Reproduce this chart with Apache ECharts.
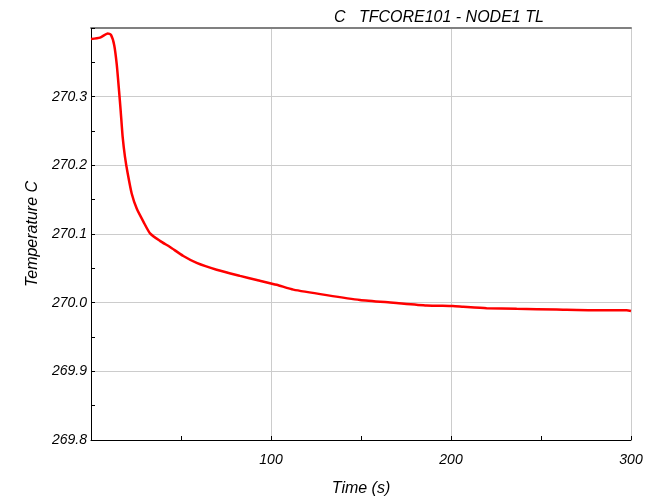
<!DOCTYPE html>
<html>
<head>
<meta charset="utf-8">
<script src="https://cdn.jsdelivr.net/npm/echarts@6/dist/echarts.min.js"></script>
<style>html,body{margin:0;padding:0;background:#fff}#c{width:651px;height:502px}</style>
</head>
<body>
<div id="c"></div>
<script>
const titleText = 'C   TFCORE101 - NODE1 TL';
const xName = 'Time (s)';
const yName = 'Temperature C';
const timeS = [0, 5, 9.3, 11.1, 12.9, 14.3, 15.6, 16.5, 17.6, 18.9, 20.4, 22.6, 25.4, 29.1, 32.8, 38.3, 43.9, 51.3, 58.7, 69.8, 82.8, 92.1, 103.2, 112.4, 130.9, 149.4, 168, 186.5, 201, 206.8, 219.8, 236.5, 258.7, 280, 297.6, 300];
const tempC = [270.384, 270.386, 270.392, 270.390, 270.375, 270.347, 270.308, 270.279, 270.241, 270.212, 270.188, 270.159, 270.137, 270.118, 270.101, 270.090, 270.081, 270.068, 270.058, 270.048, 270.039, 270.033, 270.026, 270.019, 270.011, 270.004, 270.000, 269.996, 269.995, 269.994, 269.992, 269.991, 269.990, 269.989, 269.989, 269.988];
const xTicks = [100, 200, 300];
const yTicks = [269.8, 269.9, 270.0, 270.1, 270.2, 270.3];

const font = 'Liberation Sans, Arial, sans-serif';
const chart = echarts.init(document.getElementById('c'));
chart.setOption({
  animation: false,
  title: {
    text: titleText, left: 329, top: 5,
    textStyle: {fontFamily: font, fontStyle: 'italic', fontWeight: 'normal', fontSize: 16, color: '#000'}
  },
  grid: {left: 91, right: 20, top: 28, bottom: 59},
  xAxis: [{
    type: 'value', min: 0, max: 300, interval: 100,
    name: xName, nameLocation: 'middle', nameGap: 41,
    nameTextStyle: {fontFamily: font, fontStyle: 'italic', fontSize: 16, color: '#000'},
    axisLine: {show: true, lineStyle: {color: '#000', width: 1}},
    axisTick: {show: true, inside: true, length: 4, lineStyle: {color: '#000'}},
    minorTick: {show: true, splitNumber: 2, length: 4, lineStyle: {color: '#000'}},
    axisLabel: {
      fontFamily: font, fontStyle: 'italic', fontSize: 14, color: '#000', margin: 13,
      formatter: v => xTicks.includes(v) ? String(v) : ''
    },
    splitLine: {show: true, lineStyle: {color: '#cccccc', width: 1}}
  }, {
    type: 'value', min: 0, max: 300, position: 'top',
    axisLine: {show: true, lineStyle: {color: '#808080', width: 2}},
    axisTick: {show: false}, axisLabel: {show: false}, splitLine: {show: false}
  }],
  yAxis: [{
    type: 'value', min: 269.8, max: 270.4, interval: 0.1,
    name: yName, nameLocation: 'middle', nameGap: 50,
    nameTextStyle: {fontFamily: font, fontStyle: 'italic', fontSize: 16, color: '#000'},
    axisLine: {show: true, lineStyle: {color: '#000', width: 1}},
    axisTick: {show: true, inside: true, length: 4, lineStyle: {color: '#000'}},
    minorTick: {show: true, splitNumber: 2, length: 4, lineStyle: {color: '#000'}},
    axisLabel: {
      fontFamily: font, fontStyle: 'italic', fontSize: 14, color: '#000', margin: 4,
      formatter: v => {
        const r = Math.round(v * 10) / 10;
        return yTicks.some(t => Math.abs(t - r) < 1e-6) ? r.toFixed(1) : '';
      }
    },
    splitLine: {show: true, lineStyle: {color: '#cccccc', width: 1}}
  }, {
    type: 'value', min: 269.8, max: 270.4, position: 'right',
    axisLine: {show: true, lineStyle: {color: '#000', width: 1}},
    axisTick: {show: false}, axisLabel: {show: false}, splitLine: {show: false}
  }],
  series: [{
    type: 'line', xAxisIndex: 0, yAxisIndex: 0,
    data: timeS.map((t, i) => [t, tempC[i]]),
    showSymbol: false, smooth: 0.2,
    lineStyle: {color: '#ff0000', width: 2.5}
  }]
});
</script>
</body>
</html>
